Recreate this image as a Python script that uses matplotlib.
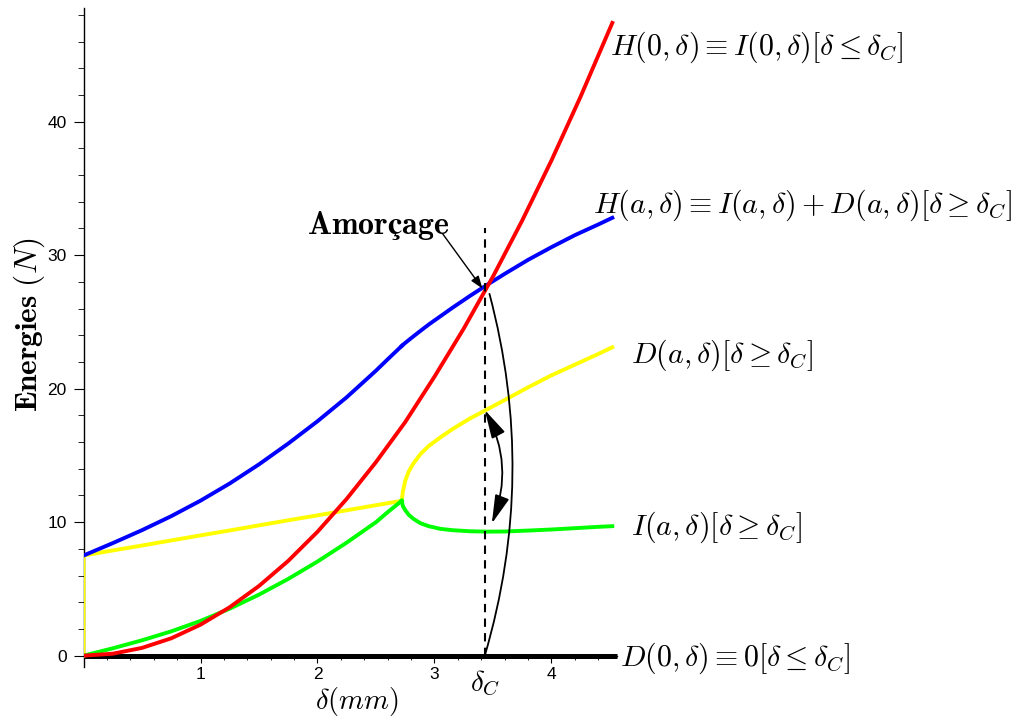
import matplotlib
matplotlib.use("Agg")
import matplotlib.pyplot as plt
from matplotlib.ticker import MultipleLocator
from matplotlib.patches import FancyArrowPatch

plt.rcParams["mathtext.fontset"] = "cm"

# Energies before crack initiation (delta <= delta_c)
delta_pre = [0.0, 0.0, 0.25, 0.5, 0.75, 1.0, 1.25, 1.5, 1.75, 2.0, 2.25, 2.5, 2.6, 2.72]
i_pre = [0.0, 0.0, 0.55, 1.15, 1.82, 2.60, 3.52, 4.57, 5.75, 7.05, 8.47, 10.0, 10.75, 11.6]
d_pre = [0.0, 7.5, 7.88, 8.25, 8.63, 9.01, 9.38, 9.76, 10.14, 10.51, 10.89, 11.27, 11.42, 11.6]
h_pre = [None, 7.5, 8.43, 9.40, 10.45, 11.61, 12.90, 14.33, 15.89, 17.56, 19.36, 21.35, 22.2, 23.2]

# Energies after the cusp (delta >= delta_c branch)
delta_post = [2.72, 2.73, 2.75, 2.78, 2.82, 2.88, 2.95, 3.05, 3.15, 3.3, 3.45,
              3.6, 3.8, 4.0, 4.2, 4.4, 4.52]
i_post = [11.6, 11.2, 10.9, 10.55, 10.25, 9.92, 9.7, 9.5, 9.4, 9.32, 9.29,
          9.3, 9.37, 9.45, 9.55, 9.65, 9.7]
d_post = [11.6, 12.3, 13.1, 13.8, 14.4, 15.1, 15.7, 16.35, 16.95, 17.75, 18.45,
          19.15, 20.1, 21.0, 21.8, 22.6, 23.1]
h_post = [23.2, 23.28, 23.43, 23.64, 23.92, 24.33, 24.8, 25.42, 26.04, 26.93, 27.78,
          28.6, 29.65, 30.6, 31.5, 32.3, 32.8]

# Total energy of the uncracked structure H(0, delta)
delta_h0 = [0.0, 0.25, 0.5, 0.75, 1.0, 1.25, 1.5, 1.75, 2.0, 2.25, 2.5, 2.75,
            3.0, 3.25, 3.5, 3.75, 4.0, 4.25, 4.52]
h0 = [0.0, 0.145, 0.58, 1.3, 2.32, 3.63, 5.22, 7.1, 9.28, 11.75, 14.5, 17.5,
      20.9, 24.5, 28.4, 32.6, 37.1, 41.9, 47.4]

# D(0, delta) = 0
delta_zero = [0.0, 4.56]
d_zero = [0.0, 0.0]

delta_c = 3.43
h_c = 27.6
d_c = 18.4
i_c = 9.9
dash_top = 32.0

fig = plt.figure(figsize=(10.21, 7.21), dpi=100)
ax = fig.add_axes([0.0818, 0.0749, 0.5225, 0.9137])
ax.set_xlim(0, 4.56)
ax.set_ylim(-0.85, 48.5)

lw = 2.8
ax.plot(delta_zero, d_zero, color="black", lw=3.6, solid_capstyle="butt", zorder=3, clip_on=False)
ax.plot(delta_pre, d_pre, color="#ffff00", lw=lw, zorder=4)
ax.plot(delta_post, d_post, color="#ffff00", lw=lw, zorder=4)
ax.plot(delta_pre[1:], i_pre[1:], color="#00ff00", lw=lw, zorder=4)
ax.plot(delta_post, i_post, color="#00ff00", lw=lw, zorder=4)
ax.plot(delta_pre[1:], h_pre[1:], color="#0000ff", lw=lw, zorder=5)
ax.plot(delta_post, h_post, color="#0000ff", lw=lw, zorder=5)
ax.plot(delta_h0, h0, color="#ff0000", lw=lw, zorder=6)

# critical displacement
ax.plot([delta_c, delta_c], [0, dash_top], color="black", lw=1.5,
        linestyle=(0, (4, 3)), zorder=7)

# energy path curves
ax.add_patch(FancyArrowPatch((delta_c, 0.0), (3.47, 27.1),
                             connectionstyle="arc3,rad=0.14", arrowstyle="-",
                             lw=1.3, color="black", shrinkA=0, shrinkB=0, zorder=8))
ax.add_patch(FancyArrowPatch((3.49, i_c), (delta_c, d_c),
                             connectionstyle="arc3,rad=0.23",
                             arrowstyle="<|-|>,head_length=0.7,head_width=0.18",
                             mutation_scale=25, lw=1.3, color="black",
                             shrinkA=0, shrinkB=0, zorder=8))

ax.annotate("", xy=(3.41, h_c - 0.1), xytext=(3.07, 31.6),
            arrowprops=dict(arrowstyle="-|>,head_length=0.5,head_width=0.18",
                            mutation_scale=15, lw=1.0, color="black",
                            shrinkA=0, shrinkB=0), zorder=9)
ax.text(2.52, 32.2, r"$\mathbf{Amorçage}$", fontsize=23, ha="center", va="center")

# curve labels
lab_fs = 21.5
ax.text(4.50, 45.6, r"$H(0,\delta)\equiv I(0,\delta)[\delta \leq \delta_C]$",
        fontsize=lab_fs, ha="left", va="center", clip_on=False)
ax.text(4.355, 33.7, r"$H(a,\delta)\equiv I(a,\delta)+D(a,\delta)[\delta \geq \delta_C]$",
        fontsize=lab_fs, ha="left", va="center", clip_on=False)
ax.text(4.68, 22.5, r"$D(a,\delta)[\delta \geq \delta_C]$",
        fontsize=lab_fs, ha="left", va="center", clip_on=False)
ax.text(4.68, 9.6, r"$I(a,\delta)[\delta \geq \delta_C]$",
        fontsize=lab_fs, ha="left", va="center", clip_on=False)
ax.text(4.585, -0.2, r"$D(0,\delta)\equiv 0[\delta \leq \delta_C]$",
        fontsize=lab_fs, ha="left", va="center", clip_on=False)

ax.text(delta_c, -2.1, r"$\delta_C$", fontsize=21, ha="center", va="center", clip_on=False)
ax.text(2.34, -3.4, r"$\delta(mm)$", fontsize=20.5, ha="center", va="center", clip_on=False)
fig.text(0.0284, 0.549, r"$\mathbf{Energies}\ (N)$", fontsize=22.5, rotation=90,
         ha="center", va="center")

# axes styling
for side in ("top", "right"):
    ax.spines[side].set_visible(False)
ax.spines["bottom"].set_position(("data", 0))
ax.spines["left"].set_linewidth(1.0)
ax.spines["bottom"].set_linewidth(1.0)

ax.set_xticks([1, 2, 3, 4])
ax.set_yticks([0, 10, 20, 30, 40])
ax.xaxis.set_minor_locator(MultipleLocator(0.2))
ax.yaxis.set_minor_locator(MultipleLocator(2))
ax.tick_params(axis="both", which="major", direction="out", labelsize=12.5)
ax.tick_params(axis="x", which="major", length=5, pad=3)
ax.tick_params(axis="x", which="minor", length=3)
ax.tick_params(axis="y", which="major", length=7, pad=5)
ax.tick_params(axis="y", which="minor", length=4)
for lab in ax.get_xticklabels() + ax.get_yticklabels():
    lab.set_fontfamily("Liberation Sans")

fig.savefig("out.png", dpi=100)
